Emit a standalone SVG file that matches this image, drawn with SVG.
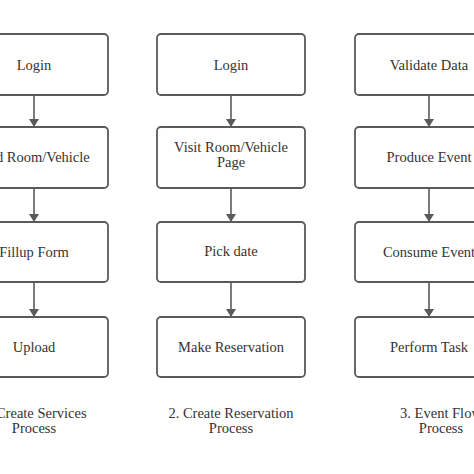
<svg xmlns="http://www.w3.org/2000/svg" width="474" height="474" viewBox="0 0 474 474">
<defs>
<style>
.box{fill:#fff;stroke:#5a5a5a;stroke-width:1.8}
.t{font-family:"Liberation Serif","Times New Roman",serif;font-size:14.5px;fill:#333;text-anchor:middle}
.c{stroke:#5a5a5a;stroke-width:1.6;fill:none}
</style>
<marker id="ah" markerWidth="8" markerHeight="10" refX="8" refY="5" orient="auto" markerUnits="userSpaceOnUse"><path d="M0,0 L8,5 L0,10 Z" fill="#5a5a5a"/></marker>
</defs>
<rect width="474" height="474" fill="#fff"/>
<g id="connectors">
<line class="c" x1="34" y1="95" x2="34" y2="127" marker-end="url(#ah)"/>
<line class="c" x1="34" y1="188" x2="34" y2="222" marker-end="url(#ah)"/>
<line class="c" x1="34" y1="282" x2="34" y2="317" marker-end="url(#ah)"/>
<line class="c" x1="231" y1="95" x2="231" y2="127" marker-end="url(#ah)"/>
<line class="c" x1="231" y1="188" x2="231" y2="222" marker-end="url(#ah)"/>
<line class="c" x1="231" y1="282" x2="231" y2="317" marker-end="url(#ah)"/>
<line class="c" x1="429" y1="95" x2="429" y2="127" marker-end="url(#ah)"/>
<line class="c" x1="429" y1="188" x2="429" y2="222" marker-end="url(#ah)"/>
<line class="c" x1="429" y1="282" x2="429" y2="317" marker-end="url(#ah)"/>
</g>
<g id="c1n1"><rect class="box" x="-40" y="34" width="148" height="61" rx="4"/><text class="t" x="34" y="70">Login</text></g>
<g id="c1n2"><rect class="box" x="-40" y="127" width="148" height="61" rx="4"/><text class="t" x="34" y="162">Add Room/Vehicle</text></g>
<g id="c1n3"><rect class="box" x="-40" y="222" width="148" height="60" rx="4"/><text class="t" x="34" y="257">Fillup Form</text></g>
<g id="c1n4"><rect class="box" x="-40" y="317" width="148" height="60" rx="4"/><text class="t" x="34" y="352">Upload</text></g>
<g id="c1cap"><text class="t" x="34" y="418">1. Create Services</text><text class="t" x="34" y="433">Process</text></g>

<g id="c2n1"><rect class="box" x="157" y="34" width="148" height="61" rx="4"/><text class="t" x="231" y="70">Login</text></g>
<g id="c2n2"><rect class="box" x="157" y="127" width="148" height="61" rx="4"/><text class="t" x="231" y="152">Visit Room/Vehicle</text><text class="t" x="231" y="167">Page</text></g>
<g id="c2n3"><rect class="box" x="157" y="222" width="148" height="60" rx="4"/><text class="t" x="231" y="256">Pick date</text></g>
<g id="c2n4"><rect class="box" x="157" y="317" width="148" height="60" rx="4"/><text class="t" x="231" y="352">Make Reservation</text></g>
<g id="c2cap"><text class="t" x="231" y="418">2. Create Reservation</text><text class="t" x="231" y="433">Process</text></g>

<g id="c3n1"><rect class="box" x="355" y="34" width="148" height="61" rx="4"/><text class="t" x="429" y="70">Validate Data</text></g>
<g id="c3n2"><rect class="box" x="355" y="127" width="148" height="61" rx="4"/><text class="t" x="429" y="162">Produce Event</text></g>
<g id="c3n3"><rect class="box" x="355" y="222" width="148" height="60" rx="4"/><text class="t" x="429" y="257">Consume Event</text></g>
<g id="c3n4"><rect class="box" x="355" y="317" width="148" height="60" rx="4"/><text class="t" x="429" y="352">Perform Task</text></g>
<g id="c3cap"><text class="t" x="441" y="418">3. Event Flow</text><text class="t" x="441" y="433">Process</text></g>
</svg>
